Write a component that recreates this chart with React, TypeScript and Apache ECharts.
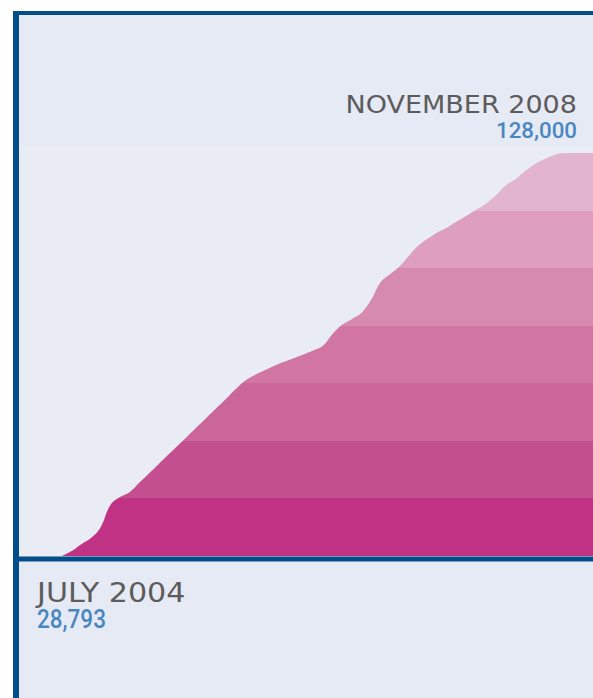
import { useEffect, useRef } from "react";
import * as echarts from "echarts";

// Monthly categories, July 2004 .. February 2009
const months = [
  "2004-07", "2004-08", "2004-09", "2004-10", "2004-11", "2004-12",
  "2005-01", "2005-02", "2005-03", "2005-04", "2005-05", "2005-06",
  "2005-07", "2005-08", "2005-09", "2005-10", "2005-11", "2005-12",
  "2006-01", "2006-02", "2006-03", "2006-04", "2006-05", "2006-06",
  "2006-07", "2006-08", "2006-09", "2006-10", "2006-11", "2006-12",
  "2007-01", "2007-02", "2007-03", "2007-04", "2007-05", "2007-06",
  "2007-07", "2007-08", "2007-09", "2007-10", "2007-11", "2007-12",
  "2008-01", "2008-02", "2008-03", "2008-04", "2008-05", "2008-06",
  "2008-07", "2008-08", "2008-09", "2008-10", "2008-11", "2008-12",
  "2009-01", "2009-02",
];

const values = [
  28793, 30000, 31700, 33200, 35900, 41300, 43300, 44500, 46800, 49100,
  51400, 53700, 56000, 58300, 60600, 62900, 65200, 67500, 69900, 72000,
  73400, 74500, 75600, 76600, 77500, 78400, 79400, 80500, 83400, 85700,
  87100, 88600, 91800, 96200, 98200, 100200, 102900, 105400, 107100, 108600,
  109800, 111300, 112700, 114200, 115700, 117700, 120100, 121600, 123600, 125300,
  126500, 127500, 128000, 128000, 128000, 128000,
];

const startLabel = "JULY 2004";
const startValue = "28,793";
const endLabel = "NOVEMBER 2008";
const endValue = "128,000";

const yMin = 28793;
const yMax = 128000;

// band colours, top to bottom
const bandColors = ["#e3b4cf", "#dd9ebf", "#d78ab0", "#d176a3", "#ca6699", "#c44f8f", "#c03384"];

export default function App() {
  const ref = useRef<HTMLDivElement>(null);

  useEffect(() => {
    if (!ref.current) return;
    const chart = echarts.init(ref.current, null, { renderer: "svg" });

    const n = bandColors.length;
    const colorStops: { offset: number; color: string }[] = [];
    bandColors.forEach((c, i) => {
      colorStops.push({ offset: i / n, color: c });
      colorStops.push({ offset: (i + 1) / n, color: c });
    });

    const navy = "#034d8a";
    const grey = "#5c5c5c";
    const blue = "#4a87c1";

    chart.setOption({
      animation: false,
      backgroundColor: "#ffffff",
      grid: { left: 62, top: 153, width: 537.4, height: 403 },
      xAxis: {
        type: "category",
        data: months,
        boundaryGap: false,
        show: false,
      },
      yAxis: {
        type: "value",
        min: yMin,
        max: yMax,
        show: false,
      },
      series: [
        {
          type: "line",
          data: values,
          smooth: 0.4,
          showSymbol: false,
          lineStyle: { width: 0 },
          areaStyle: {
            opacity: 1,
            color: { type: "linear", x: 0, y: 0, x2: 0, y2: 1, colorStops },
          },
          z: 5,
        },
      ],
      graphic: [
        { type: "rect", z: -10, shape: { x: 13, y: 11, width: 600, height: 700 }, style: { fill: "#e6eaf5" } },
        { type: "rect", z: -9, shape: { x: 19, y: 147, width: 600, height: 409 }, style: { fill: "#e9ecf5" } },
        { type: "rect", z: 50, shape: { x: 13, y: 11, width: 6, height: 700 }, style: { fill: navy } },
        { type: "rect", z: 50, shape: { x: 13, y: 11, width: 600, height: 4 }, style: { fill: navy } },
        { type: "rect", z: 50, shape: { x: 19, y: 556.5, width: 600, height: 5 }, style: { fill: navy } },
        {
          type: "text", z: 50, x: 577, y: 104.5, scaleX: 1.126,
          style: { text: endLabel, x: 0, y: 0, align: "right", verticalAlign: "middle", fontFamily: "DejaVu Sans", fontSize: 24, fill: grey },
        },
        {
          type: "text", z: 50, x: 577, y: 130.5, scaleX: 0.97,
          style: { text: endValue, x: 0, y: 0, align: "right", verticalAlign: "middle", fontFamily: "Roboto", fontWeight: 500, fontSize: 23, fill: blue },
        },
        {
          type: "text", z: 50, x: 37, y: 593.5, scaleX: 1.16,
          style: { text: startLabel, x: 0, y: 0, align: "left", verticalAlign: "middle", fontFamily: "DejaVu Sans", fontSize: 26, fill: grey },
        },
        {
          type: "text", z: 50, x: 37, y: 619.5, scaleX: 0.9,
          style: { text: startValue, x: 0, y: 0, align: "left", verticalAlign: "middle", fontFamily: "Roboto", fontWeight: 500, fontSize: 25, fill: blue },
        },
      ],
    });

    return () => chart.dispose();
  }, []);

  return (
    <div
      ref={ref}
      style={{ position: "fixed", left: 0, top: 0, width: 593, height: 698, background: "#ffffff" }}
    />
  );
}
